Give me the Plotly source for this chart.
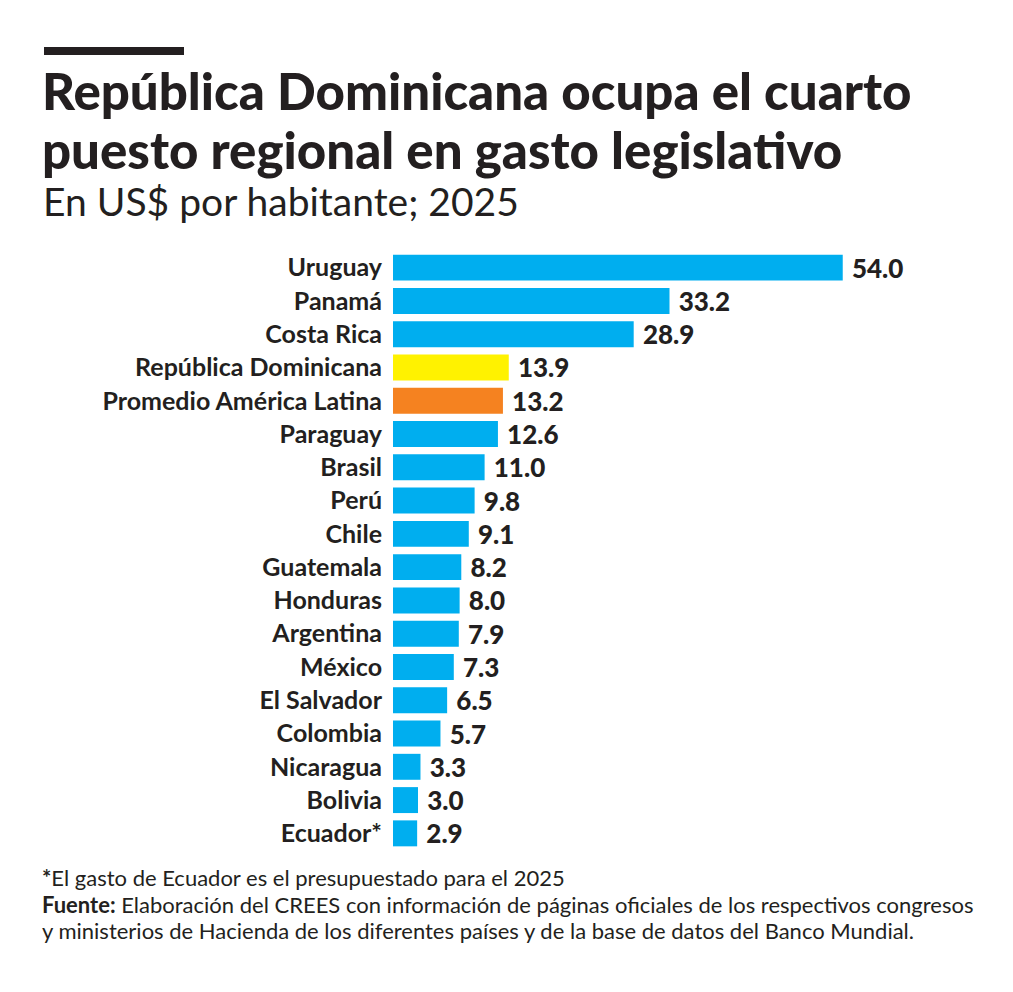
import plotly.graph_objects as go

paises = ["Uruguay", "Panamá", "Costa Rica", "República Dominicana",
          "Promedio América Latina", "Paraguay", "Brasil", "Perú", "Chile",
          "Guatemala", "Honduras", "Argentina", "México", "El Salvador",
          "Colombia", "Nicaragua", "Bolivia", "Ecuador*"]
gasto = [54.0, 33.2, 28.9, 13.9, 13.2, 12.6, 11.0, 9.8, 9.1,
         8.2, 8.0, 7.9, 7.3, 6.5, 5.7, 3.3, 3.0, 2.9]

AZUL = "#00AEEF"
colores = []
for p in paises:
    if p == "República Dominicana":
        colores.append("#FFF200")
    elif p == "Promedio América Latina":
        colores.append("#F58220")
    else:
        colores.append(AZUL)

W, H = 1013, 992
OFF = 8  # page body margin
L, R, T, B = 385, 45, 243, 150
XMAX = 70
TXT = "#231F20"


def px(x, y):
    # page pixel coords -> paper coords
    x, y = x - OFF, y - OFF
    return (x - L) / (W - L - R), (H - B - y) / (H - T - B)


fig = go.Figure(go.Bar(
    x=gasto, y=paises, orientation="h",
    marker=dict(color=colores, line=dict(width=0)),
    text=[f" {v:.1f}" for v in gasto], textposition="outside",
    constraintext="none",
    textfont=dict(family="Lato", size=26, color=TXT, weight=900),
    cliponaxis=False,
))

anns = []


def texto(x, y, t, size, weight=400, fam="Lato"):
    xp, yp = px(x, y)
    anns.append(dict(x=xp, y=yp, xref="paper", yref="paper", text=t,
                     showarrow=False, xanchor="left", yanchor="middle",
                     align="left",
                     font=dict(family=fam, size=size, color=TXT, weight=weight)))


texto(40, 91, "República Dominicana ocupa el cuarto", 51, 900)
texto(40, 149, "puesto regional en gasto legislativo", 51, 900)
texto(41, 201, "En US$ por habitante; 2025", 39)
texto(40, 877, "<b>*</b>El gasto de Ecuador es el presupuestado para el 2025", 22)
texto(40, 904, "<b>Fuente:</b> Elaboración del CREES con información de páginas oficiales de los respectivos congresos", 22)
texto(40, 931, "y ministerios de Hacienda de los diferentes países y de la base de datos del Banco Mundial.", 22)

x0, y0 = px(44, 47)
x1, y1 = px(184, 55)

fig.update_layout(
    width=W, height=H,
    margin=dict(l=L, r=R, t=T, b=B),
    paper_bgcolor="white", plot_bgcolor="white",
    showlegend=False, bargap=0.22,
    annotations=anns,
    shapes=[dict(type="rect", xref="paper", yref="paper",
                 x0=x0, x1=x1, y0=y0, y1=y1,
                 fillcolor="#231F20", line=dict(width=0))],
    xaxis=dict(range=[0, XMAX], visible=False, fixedrange=True),
    yaxis=dict(autorange="reversed", showgrid=False, zeroline=False,
               showline=False, ticks="", ticklabelstandoff=10,
               tickfont=dict(family="Lato", size=25, color=TXT, weight=700)),
)

fig.write_html("out.html")
